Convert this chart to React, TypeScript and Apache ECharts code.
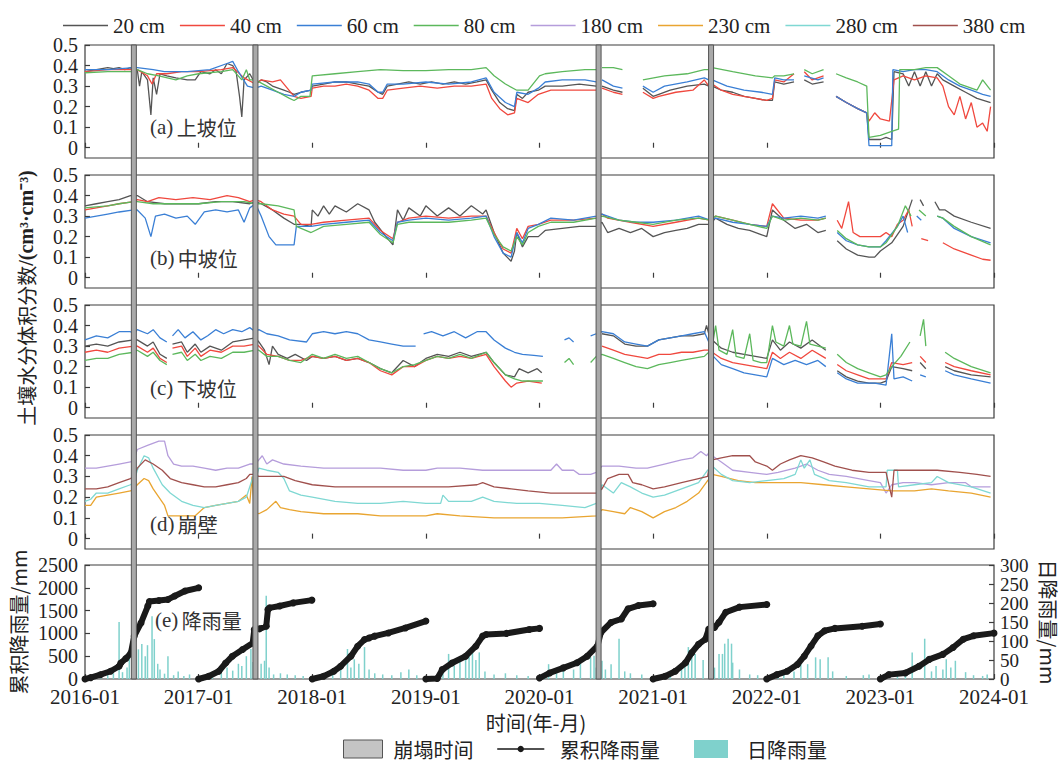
import React, { useEffect, useRef } from 'react';
import * as echarts from 'echarts';

type Pt = [number, number | null];

// x values: years since 2016-01
const X_TICK_LABELS = ['2016-01', '2017-01', '2018-01', '2019-01', '2020-01', '2021-01', '2022-01', '2023-01', '2024-01'];
const Y_TICKS = [0, 0.1, 0.2, 0.3, 0.4, 0.5];
const DAILY_TICKS = [0, 50, 100, 150, 200, 250, 300];
const DEPTH_NAMES = ['20 cm', '40 cm', '60 cm', '80 cm', '180 cm', '230 cm', '280 cm', '380 cm'];
const DEPTH_COLORS = ['#555555', '#f0483e', '#3a7fd5', '#5cb85c', '#b59ddb', '#e9a531', '#7fd8d3', '#a0504d'];
const PANEL_LABELS = [['(a)', '上坡位'], ['(b)', '中坡位'], ['(c)', '下坡位'], ['(d)', '崩壁'], ['(e)', '降雨量']];
const COLLAPSE_TIMES = [0.43, 1.5, 4.52, 5.51];

// ---- (a) upper slope ----
const A_20: Pt[] = [[0,0.37],[0.05,0.375],[0.1,0.38],[0.15,0.385],[0.2,0.39],[0.25,0.385],[0.3,0.39],[0.35,0.38],[0.4,0.39],[0.43,0.37],[0.46,0.38],[0.48,0.30],[0.5,0.37],[0.55,0.33],[0.58,0.16],[0.6,0.34],[0.63,0.26],[0.66,0.36],[0.72,0.35],[0.8,0.34],[0.9,0.33],[0.97,0.33],[1.02,0.37],[1.1,0.36],[1.15,0.38],[1.2,0.36],[1.25,0.41],[1.3,0.40],[1.33,0.37],[1.36,0.25],[1.38,0.15],[1.4,0.33],[1.45,0.36],[1.5,0.31],[1.55,0.33],[1.6,0.32],[1.65,0.30],[1.7,0.29],[1.75,0.28],[1.8,0.27],[1.84,0.26],[1.9,0.27],[1.99,0.28],[2.0,0.30],[2.1,0.31],[2.2,0.32],[2.3,0.32],[2.4,0.31],[2.5,0.30],[2.58,0.27],[2.62,0.26],[2.66,0.30],[2.75,0.31],[2.85,0.32],[2.95,0.31],[3.05,0.32],[3.15,0.31],[3.25,0.32],[3.35,0.31],[3.45,0.32],[3.53,0.33],[3.58,0.28],[3.65,0.22],[3.72,0.19],[3.78,0.18],[3.8,0.26],[3.85,0.24],[3.9,0.27],[3.99,0.28],[4.05,0.30],[4.2,0.30],[4.35,0.31],[4.5,0.30],[4.52,null],[4.55,0.30],[4.65,0.28],[4.73,0.27],[4.75,null],[4.91,0.29],[5.0,0.25],[5.05,0.26],[5.15,0.28],[5.3,0.30],[5.45,0.31],[5.49,0.30],[5.505,null],[5.52,0.30],[5.6,0.28],[5.7,0.27],[5.8,0.25],[5.9,0.24],[6.0,0.23],[6.05,0.23],[6.07,0.32],[6.15,0.31],[6.24,0.32],[6.25,null],[6.33,0.33],[6.4,0.31],[6.5,0.32],[6.54,null],[6.61,0.25],[6.7,0.22],[6.8,0.19],[6.88,0.17],[6.9,0.04],[7.0,0.04],[7.05,0.05],[7.1,0.04],[7.12,0.37],[7.2,0.36],[7.25,0.30],[7.3,0.37],[7.35,0.30],[7.4,0.37],[7.45,0.30],[7.5,0.36],[7.55,0.33],[7.65,0.30],[7.75,0.27],[7.85,0.24],[7.97,0.22]];
const A_40: Pt[] = [[0,0.37],[0.1,0.375],[0.2,0.38],[0.3,0.38],[0.43,0.38],[0.46,0.38],[0.55,0.35],[0.59,0.31],[0.63,0.36],[0.72,0.36],[0.85,0.37],[1.0,0.37],[1.2,0.38],[1.3,0.39],[1.4,0.34],[1.5,0.31],[1.55,0.33],[1.65,0.32],[1.72,0.33],[1.78,0.29],[1.84,0.25],[1.9,0.24],[1.99,0.25],[2.0,0.29],[2.1,0.30],[2.2,0.30],[2.3,0.31],[2.4,0.30],[2.5,0.28],[2.58,0.24],[2.62,0.24],[2.66,0.28],[2.8,0.29],[2.95,0.30],[3.1,0.29],[3.25,0.30],[3.4,0.30],[3.53,0.31],[3.58,0.24],[3.65,0.19],[3.72,0.16],[3.78,0.17],[3.8,0.24],[3.9,0.22],[3.99,0.26],[4.1,0.28],[4.3,0.28],[4.5,0.28],[4.52,null],[4.55,0.29],[4.65,0.27],[4.73,0.26],[4.75,null],[4.91,0.27],[5.0,0.24],[5.05,0.25],[5.2,0.27],[5.35,0.28],[5.45,0.33],[5.49,0.30],[5.505,null],[5.52,0.31],[5.6,0.28],[5.7,0.26],[5.8,0.25],[5.9,0.24],[6.0,0.23],[6.05,0.24],[6.07,0.33],[6.15,0.32],[6.24,0.36],[6.25,null],[6.33,0.37],[6.4,0.33],[6.5,0.35],[6.54,null],[6.61,0.25],[6.7,0.22],[6.8,0.19],[6.88,0.17],[6.9,0.13],[6.95,0.17],[7.0,0.14],[7.08,0.13],[7.12,0.33],[7.2,0.35],[7.3,0.33],[7.4,0.35],[7.5,0.34],[7.55,0.30],[7.6,0.20],[7.65,0.16],[7.7,0.25],[7.75,0.14],[7.8,0.22],[7.85,0.10],[7.9,0.12],[7.94,0.08],[7.97,0.20]];
const A_60: Pt[] = [[0,0.38],[0.2,0.38],[0.43,0.39],[0.46,0.39],[0.6,0.38],[0.7,0.37],[0.9,0.37],[1.1,0.38],[1.25,0.41],[1.3,0.42],[1.35,0.37],[1.43,0.30],[1.5,0.29],[1.55,0.30],[1.65,0.28],[1.75,0.26],[1.84,0.25],[1.9,0.27],[1.99,0.28],[2.0,0.31],[2.2,0.32],[2.4,0.32],[2.5,0.31],[2.58,0.27],[2.62,0.27],[2.66,0.31],[2.8,0.31],[3.0,0.32],[3.2,0.31],[3.4,0.32],[3.53,0.34],[3.6,0.27],[3.7,0.22],[3.78,0.20],[3.8,0.27],[3.9,0.26],[3.99,0.29],[4.05,0.32],[4.2,0.33],[4.4,0.33],[4.5,0.32],[4.52,null],[4.55,0.33],[4.65,0.30],[4.73,0.29],[4.75,null],[4.91,0.30],[5.0,0.27],[5.1,0.30],[5.3,0.32],[5.45,0.34],[5.49,0.33],[5.505,null],[5.52,0.33],[5.65,0.30],[5.8,0.28],[5.95,0.27],[6.05,0.26],[6.07,0.34],[6.15,0.33],[6.24,0.33],[6.25,null],[6.33,0.35],[6.45,0.33],[6.5,0.34],[6.54,null],[6.61,0.25],[6.7,0.22],[6.8,0.19],[6.88,0.17],[6.9,0.01],[7.0,0.01],[7.1,0.01],[7.11,0.38],[7.2,0.37],[7.3,0.38],[7.4,0.38],[7.5,0.37],[7.6,0.33],[7.7,0.30],[7.8,0.28],[7.9,0.26],[7.97,0.25]];
const A_80: Pt[] = [[0,0.365],[0.2,0.37],[0.43,0.37],[0.46,0.38],[0.55,0.36],[0.65,0.35],[0.8,0.33],[0.9,0.35],[1.0,0.36],[1.2,0.37],[1.3,0.38],[1.38,0.33],[1.42,0.38],[1.45,0.33],[1.5,0.33],[1.6,0.30],[1.7,0.27],[1.8,0.24],[1.84,0.23],[1.9,0.25],[1.98,0.25],[2.0,0.35],[2.2,0.36],[2.4,0.37],[2.6,0.38],[2.8,0.375],[3.0,0.375],[3.2,0.38],[3.4,0.38],[3.53,0.39],[3.6,0.35],[3.7,0.31],[3.8,0.28],[3.9,0.28],[4.0,0.35],[4.05,0.36],[4.2,0.37],[4.4,0.38],[4.5,0.38],[4.52,null],[4.55,0.39],[4.65,0.39],[4.73,0.38],[4.75,null],[4.91,0.33],[5.1,0.35],[5.3,0.36],[5.45,0.38],[5.49,0.38],[5.505,null],[5.52,0.39],[5.7,0.37],[5.9,0.35],[6.05,0.34],[6.07,0.35],[6.15,0.35],[6.24,0.36],[6.25,null],[6.33,0.38],[6.4,0.36],[6.5,0.38],[6.54,null],[6.61,0.36],[6.7,0.34],[6.8,0.32],[6.88,0.30],[6.9,0.05],[7.0,0.06],[7.1,0.08],[7.16,0.09],[7.17,0.38],[7.3,0.38],[7.4,0.39],[7.5,0.39],[7.6,0.35],[7.7,0.31],[7.8,0.29],[7.85,0.28],[7.9,0.33],[7.97,0.28]];

// ---- (b) middle slope ----
const B_20: Pt[] = [[0,0.35],[0.1,0.36],[0.2,0.37],[0.3,0.38],[0.4,0.40],[0.46,0.40],[0.55,0.37],[0.7,0.36],[0.85,0.36],[1.0,0.36],[1.15,0.37],[1.3,0.37],[1.45,0.36],[1.5,0.37],[1.55,0.36],[1.65,0.33],[1.75,0.29],[1.84,0.26],[1.9,0.26],[1.99,0.25],[2.0,0.33],[2.05,0.30],[2.1,0.35],[2.15,0.31],[2.2,0.35],[2.3,0.32],[2.4,0.36],[2.5,0.33],[2.55,0.27],[2.65,0.20],[2.71,0.16],[2.75,0.33],[2.8,0.28],[2.85,0.34],[2.95,0.30],[3.0,0.35],[3.1,0.30],[3.2,0.34],[3.3,0.30],[3.4,0.35],[3.5,0.31],[3.53,0.33],[3.6,0.22],[3.68,0.12],[3.75,0.08],[3.78,0.13],[3.8,0.22],[3.85,0.15],[3.9,0.20],[3.99,0.20],[4.05,0.23],[4.2,0.24],[4.35,0.25],[4.5,0.25],[4.55,0.27],[4.6,0.22],[4.7,0.24],[4.8,0.22],[4.9,0.24],[5.0,0.20],[5.1,0.22],[5.2,0.23],[5.3,0.24],[5.4,0.26],[5.5,0.26],[5.55,0.29],[5.65,0.26],[5.75,0.24],[5.85,0.23],[5.95,0.21],[6.0,0.20],[6.05,0.33],[6.15,0.28],[6.25,0.24],[6.35,0.26],[6.45,0.22],[6.52,0.23],[6.55,null],[6.62,0.18],[6.7,0.14],[6.8,0.11],[6.9,0.10],[6.95,0.10],[7.0,0.13],[7.1,0.17],[7.2,0.25],[7.28,0.38],[7.3,null],[7.35,0.38],[7.38,0.35],[7.42,null],[7.48,0.37],[7.52,0.33],[7.57,0.33],[7.65,0.30],[7.8,0.27],[7.97,0.24]];
const B_40: Pt[] = [[0,0.33],[0.1,0.34],[0.2,0.35],[0.3,0.36],[0.43,0.37],[0.46,0.38],[0.55,0.37],[0.65,0.39],[0.8,0.38],[0.95,0.39],[1.1,0.38],[1.25,0.40],[1.35,0.39],[1.45,0.37],[1.5,0.38],[1.55,0.37],[1.65,0.33],[1.75,0.31],[1.84,0.30],[1.9,0.26],[1.99,0.26],[2.1,0.27],[2.3,0.28],[2.5,0.29],[2.6,0.23],[2.71,0.19],[2.75,0.27],[2.85,0.29],[3.0,0.30],[3.2,0.29],[3.4,0.30],[3.53,0.30],[3.6,0.22],[3.68,0.14],[3.75,0.12],[3.8,0.24],[3.85,0.19],[3.9,0.25],[3.99,0.26],[4.1,0.28],[4.3,0.28],[4.5,0.29],[4.55,0.31],[4.6,0.29],[4.8,0.27],[5.0,0.25],[5.2,0.27],[5.4,0.29],[5.5,0.28],[5.55,0.30],[5.7,0.28],[5.85,0.26],[6.0,0.25],[6.05,0.36],[6.15,0.29],[6.3,0.28],[6.45,0.28],[6.52,0.29],[6.55,null],[6.62,0.28],[6.66,0.24],[6.72,0.37],[6.76,0.22],[6.82,0.20],[6.9,0.20],[7.0,0.20],[7.05,0.22],[7.1,0.20],[7.15,0.26],[7.2,0.28],[7.25,0.33],[7.28,0.25],[7.3,null],[7.36,0.19],[7.42,0.18],[7.45,null],[7.55,0.17],[7.65,0.14],[7.8,0.11],[7.9,0.09],[7.97,0.085]];
const B_60: Pt[] = [[0,0.29],[0.1,0.30],[0.2,0.31],[0.3,0.32],[0.43,0.33],[0.46,0.33],[0.53,0.29],[0.58,0.20],[0.62,0.30],[0.7,0.31],[0.8,0.29],[0.9,0.30],[0.97,0.26],[1.05,0.32],[1.15,0.33],[1.25,0.32],[1.35,0.33],[1.4,0.27],[1.45,0.34],[1.5,0.36],[1.55,0.30],[1.62,0.20],[1.68,0.16],[1.84,0.16],[1.86,0.25],[1.99,0.25],[2.1,0.26],[2.3,0.27],[2.5,0.28],[2.6,0.22],[2.71,0.18],[2.75,0.27],[2.85,0.28],[3.0,0.29],[3.2,0.28],[3.4,0.29],[3.53,0.30],[3.6,0.20],[3.68,0.12],[3.75,0.10],[3.8,0.22],[3.85,0.17],[3.9,0.24],[3.99,0.26],[4.1,0.29],[4.3,0.28],[4.5,0.30],[4.55,0.31],[4.7,0.28],[4.85,0.27],[5.0,0.27],[5.2,0.28],[5.4,0.30],[5.5,0.28],[5.55,0.29],[5.7,0.27],[5.85,0.26],[6.0,0.25],[6.05,0.30],[6.15,0.29],[6.3,0.30],[6.45,0.29],[6.52,0.30],[6.55,null],[6.62,0.22],[6.7,0.18],[6.8,0.16],[6.9,0.15],[7.0,0.15],[7.05,0.18],[7.15,0.25],[7.2,0.30],[7.24,0.22],[7.27,null],[7.32,0.30],[7.36,0.28],[7.4,null],[7.5,0.30],[7.55,0.29],[7.65,0.24],[7.8,0.20],[7.97,0.17]];
const B_80: Pt[] = [[0,0.34],[0.1,0.345],[0.2,0.35],[0.3,0.36],[0.43,0.37],[0.46,0.37],[0.6,0.36],[0.8,0.36],[1.0,0.36],[1.2,0.37],[1.4,0.37],[1.5,0.36],[1.55,0.36],[1.7,0.35],[1.84,0.33],[1.86,0.25],[1.99,0.22],[2.1,0.25],[2.3,0.26],[2.5,0.27],[2.6,0.21],[2.71,0.17],[2.75,0.26],[2.85,0.27],[3.0,0.27],[3.2,0.27],[3.4,0.28],[3.53,0.29],[3.6,0.21],[3.68,0.15],[3.75,0.13],[3.8,0.20],[3.85,0.16],[3.9,0.22],[3.99,0.25],[4.1,0.27],[4.3,0.27],[4.5,0.29],[4.55,0.30],[4.7,0.28],[4.85,0.27],[5.0,0.26],[5.2,0.28],[5.4,0.29],[5.5,0.28],[5.55,0.30],[5.7,0.28],[5.85,0.26],[6.0,0.24],[6.05,0.30],[6.15,0.28],[6.3,0.29],[6.45,0.28],[6.52,0.29],[6.55,null],[6.62,0.23],[6.7,0.19],[6.8,0.16],[6.9,0.15],[7.0,0.15],[7.05,0.17],[7.15,0.25],[7.22,0.35],[7.27,0.30],[7.3,null],[7.34,0.33],[7.4,0.30],[7.44,null],[7.5,0.30],[7.55,0.29],[7.65,0.25],[7.8,0.20],[7.97,0.16]];

// ---- (c) lower slope ----
const C_20: Pt[] = [[0,0.30],[0.1,0.31],[0.2,0.30],[0.3,0.32],[0.43,0.33],[0.46,0.33],[0.55,0.30],[0.6,0.32],[0.66,0.26],[0.72,0.24],[0.74,null],[0.77,0.31],[0.85,0.32],[0.9,0.27],[0.97,0.31],[1.02,0.27],[1.1,0.30],[1.2,0.28],[1.3,0.32],[1.4,0.33],[1.5,0.34],[1.53,0.32],[1.58,0.28],[1.62,0.21],[1.65,0.30],[1.7,0.26],[1.78,0.24],[1.85,0.26],[1.95,0.23],[2.0,0.25],[2.1,0.24],[2.2,0.25],[2.3,0.23],[2.4,0.24],[2.5,0.22],[2.6,0.19],[2.7,0.17],[2.8,0.23],[2.9,0.20],[3.0,0.24],[3.1,0.26],[3.2,0.25],[3.3,0.27],[3.4,0.25],[3.53,0.27],[3.6,0.22],[3.7,0.16],[3.78,0.15],[3.82,0.19],[3.9,0.17],[3.98,0.19],[4.02,0.17],[4.05,null],[4.55,0.36],[4.65,0.35],[4.75,0.31],[4.85,0.30],[4.95,0.30],[5.05,0.33],[5.15,0.34],[5.25,0.35],[5.35,0.35],[5.45,0.36],[5.47,0.40],[5.49,0.36],[5.505,null],[5.52,0.33],[5.6,0.29],[5.7,0.27],[5.8,0.26],[5.9,0.25],[6.0,0.24],[6.05,0.33],[6.12,0.28],[6.2,0.32],[6.3,0.29],[6.4,0.33],[6.52,0.28],[6.55,null],[6.62,0.18],[6.7,0.15],[6.8,0.13],[6.9,0.12],[7.0,0.12],[7.05,0.13],[7.1,0.20],[7.2,0.19],[7.28,0.18],[7.3,null],[7.35,0.22],[7.4,0.19],[7.45,null],[7.57,0.20],[7.65,0.18],[7.8,0.16],[7.97,0.15]];
const C_40: Pt[] = [[0,0.27],[0.1,0.28],[0.2,0.27],[0.3,0.29],[0.43,0.30],[0.46,0.30],[0.55,0.27],[0.6,0.29],[0.66,0.24],[0.72,0.22],[0.74,null],[0.77,0.29],[0.85,0.30],[0.9,0.25],[0.97,0.29],[1.02,0.25],[1.1,0.28],[1.2,0.27],[1.3,0.30],[1.4,0.30],[1.5,0.31],[1.53,0.30],[1.6,0.26],[1.7,0.25],[1.8,0.23],[1.9,0.23],[2.0,0.25],[2.1,0.24],[2.2,0.25],[2.3,0.23],[2.4,0.24],[2.5,0.22],[2.6,0.18],[2.7,0.16],[2.8,0.20],[2.9,0.20],[3.0,0.23],[3.1,0.25],[3.2,0.24],[3.3,0.25],[3.4,0.24],[3.53,0.26],[3.6,0.20],[3.7,0.13],[3.75,0.10],[3.8,0.12],[3.9,0.13],[4.02,0.12],[4.05,null],[4.55,0.30],[4.65,0.28],[4.75,0.26],[4.85,0.25],[4.95,0.24],[5.05,0.26],[5.15,0.26],[5.25,0.27],[5.35,0.27],[5.45,0.28],[5.49,0.28],[5.505,null],[5.52,0.27],[5.6,0.24],[5.7,0.22],[5.8,0.21],[5.9,0.20],[6.0,0.19],[6.05,0.27],[6.12,0.24],[6.2,0.27],[6.3,0.24],[6.4,0.28],[6.52,0.24],[6.55,null],[6.62,0.21],[6.7,0.18],[6.8,0.16],[6.9,0.14],[7.0,0.14],[7.05,0.14],[7.1,0.22],[7.2,0.21],[7.28,0.22],[7.3,null],[7.35,0.25],[7.4,0.22],[7.45,null],[7.57,0.22],[7.65,0.20],[7.8,0.18],[7.97,0.16]];
const C_60: Pt[] = [[0,0.33],[0.1,0.35],[0.2,0.34],[0.3,0.37],[0.4,0.37],[0.43,0.36],[0.46,0.38],[0.55,0.36],[0.6,0.38],[0.66,0.34],[0.72,0.32],[0.74,null],[0.77,0.35],[0.82,0.38],[0.88,0.34],[0.95,0.37],[1.02,0.33],[1.08,0.35],[1.15,0.38],[1.22,0.36],[1.3,0.38],[1.38,0.37],[1.45,0.39],[1.5,0.37],[1.53,0.38],[1.6,0.36],[1.7,0.35],[1.8,0.33],[1.95,0.32],[2.0,0.36],[2.1,0.37],[2.2,0.36],[2.3,0.37],[2.4,0.36],[2.5,0.33],[2.6,0.32],[2.7,0.31],[2.8,0.30],[2.91,0.30],[2.94,null],[2.98,0.36],[3.05,0.37],[3.15,0.35],[3.25,0.37],[3.35,0.34],[3.45,0.37],[3.53,0.37],[3.6,0.33],[3.7,0.29],[3.78,0.27],[3.85,0.26],[3.95,0.255],[4.03,0.25],[4.1,null],[4.22,0.33],[4.26,0.34],[4.3,0.32],[4.35,null],[4.45,0.35],[4.5,0.36],[4.55,0.37],[4.65,0.36],[4.75,0.32],[4.85,0.31],[4.95,0.30],[5.05,0.33],[5.15,0.34],[5.25,0.35],[5.35,0.36],[5.45,0.37],[5.49,0.32],[5.505,null],[5.52,0.50],[5.53,0.25],[5.6,0.21],[5.7,0.19],[5.8,0.17],[5.9,0.16],[6.0,0.15],[6.05,0.24],[6.15,0.21],[6.25,0.23],[6.35,0.21],[6.45,0.23],[6.52,0.20],[6.55,null],[6.62,0.17],[6.7,0.14],[6.8,0.12],[6.9,0.12],[6.95,0.12],[7.05,0.11],[7.1,0.36],[7.12,0.14],[7.2,0.15],[7.28,0.13],[7.3,null],[7.35,0.16],[7.4,0.15],[7.45,null],[7.57,0.18],[7.65,0.16],[7.8,0.14],[7.97,0.12]];
const C_80: Pt[] = [[0,0.23],[0.1,0.24],[0.2,0.24],[0.3,0.26],[0.43,0.27],[0.46,0.28],[0.55,0.25],[0.6,0.27],[0.66,0.23],[0.72,0.21],[0.74,null],[0.77,0.26],[0.85,0.27],[0.9,0.23],[0.97,0.26],[1.02,0.23],[1.1,0.25],[1.2,0.24],[1.3,0.27],[1.4,0.27],[1.5,0.28],[1.53,0.28],[1.6,0.25],[1.7,0.25],[1.8,0.23],[1.9,0.22],[2.0,0.26],[2.1,0.24],[2.2,0.26],[2.3,0.24],[2.4,0.25],[2.5,0.22],[2.6,0.19],[2.7,0.17],[2.8,0.20],[2.9,0.21],[3.0,0.23],[3.1,0.25],[3.2,0.24],[3.3,0.26],[3.4,0.24],[3.53,0.27],[3.6,0.22],[3.7,0.16],[3.78,0.14],[3.85,0.13],[3.95,0.13],[4.03,0.13],[4.1,null],[4.22,0.22],[4.26,0.24],[4.3,0.21],[4.35,null],[4.45,0.22],[4.5,0.25],[4.55,0.26],[4.65,0.24],[4.75,0.22],[4.85,0.20],[4.95,0.19],[5.05,0.21],[5.15,0.22],[5.25,0.23],[5.35,0.24],[5.45,0.25],[5.49,0.27],[5.505,null],[5.52,0.30],[5.55,0.40],[5.58,0.28],[5.65,0.26],[5.7,0.38],[5.73,0.25],[5.8,0.24],[5.85,0.36],[5.88,0.23],[5.95,0.22],[6.0,0.22],[6.05,0.40],[6.08,0.32],[6.15,0.30],[6.2,0.40],[6.23,0.31],[6.3,0.30],[6.35,0.42],[6.38,0.31],[6.45,0.30],[6.52,0.29],[6.55,null],[6.62,0.26],[6.7,0.22],[6.8,0.19],[6.9,0.17],[7.0,0.15],[7.05,0.16],[7.1,0.20],[7.18,0.25],[7.26,0.32],[7.3,null],[7.35,0.35],[7.38,0.43],[7.4,0.30],[7.45,null],[7.57,0.27],[7.65,0.24],[7.8,0.20],[7.97,0.17]];

// ---- (d) collapse wall ----
const D_180: Pt[] = [[0,0.34],[0.1,0.34],[0.2,0.35],[0.3,0.36],[0.4,0.37],[0.43,0.38],[0.46,0.43],[0.55,0.45],[0.65,0.47],[0.7,0.47],[0.73,0.40],[0.78,0.36],[0.85,0.35],[0.95,0.35],[1.05,0.34],[1.15,0.33],[1.25,0.34],[1.35,0.34],[1.45,0.36],[1.5,0.36],[1.53,0.38],[1.56,0.40],[1.6,0.36],[1.65,0.38],[1.75,0.36],[1.9,0.35],[2.1,0.34],[2.4,0.34],[2.6,0.34],[2.8,0.33],[3.0,0.33],[3.1,0.34],[3.3,0.34],[3.5,0.33],[3.7,0.33],[3.85,0.33],[4.1,0.33],[4.15,0.36],[4.2,0.33],[4.3,0.33],[4.35,0.31],[4.45,0.31],[4.5,0.32],[4.55,0.35],[4.7,0.35],[4.85,0.34],[4.95,0.34],[5.1,0.36],[5.25,0.38],[5.35,0.39],[5.42,0.42],[5.47,0.40],[5.5,0.42],[5.52,0.40],[5.6,0.37],[5.7,0.33],[5.85,0.32],[6.0,0.31],[6.1,0.32],[6.25,0.34],[6.35,0.36],[6.45,0.33],[6.55,0.31],[6.7,0.30],[6.9,0.28],[7.0,0.27],[7.05,0.22],[7.1,0.26],[7.2,0.27],[7.3,0.27],[7.45,0.26],[7.6,0.27],[7.75,0.27],[7.8,0.25],[7.97,0.25]];
const D_230: Pt[] = [[0,0.16],[0.05,0.16],[0.1,0.20],[0.2,0.21],[0.3,0.22],[0.4,0.23],[0.43,0.24],[0.46,0.26],[0.52,0.29],[0.56,0.28],[0.6,0.24],[0.65,0.20],[0.7,0.16],[0.73,0.11],[0.8,0.11],[0.9,0.11],[0.97,0.11],[1.05,0.15],[1.15,0.16],[1.25,0.17],[1.35,0.18],[1.42,0.21],[1.45,0.17],[1.47,0.30],[1.49,0.13],[1.53,0.12],[1.6,0.14],[1.68,0.18],[1.72,0.15],[1.8,0.14],[1.9,0.13],[2.1,0.12],[2.4,0.12],[2.6,0.11],[2.8,0.11],[3.0,0.11],[3.1,0.12],[3.3,0.11],[3.6,0.10],[3.9,0.10],[4.2,0.10],[4.5,0.11],[4.55,0.14],[4.65,0.13],[4.75,0.12],[4.8,0.15],[4.9,0.13],[5.0,0.10],[5.1,0.13],[5.2,0.15],[5.3,0.18],[5.4,0.22],[5.48,0.28],[5.52,0.31],[5.6,0.30],[5.75,0.28],[5.9,0.27],[6.1,0.27],[6.3,0.27],[6.5,0.26],[6.7,0.25],[6.9,0.24],[7.1,0.23],[7.3,0.23],[7.45,0.24],[7.6,0.23],[7.8,0.22],[7.97,0.20]];
const D_280: Pt[] = [[0,0.18],[0.05,0.19],[0.1,0.22],[0.2,0.22],[0.3,0.24],[0.4,0.26],[0.43,0.27],[0.46,0.33],[0.52,0.40],[0.56,0.39],[0.6,0.34],[0.68,0.26],[0.75,0.22],[0.85,0.18],[0.95,0.16],[1.05,0.15],[1.15,0.16],[1.25,0.17],[1.35,0.18],[1.42,0.20],[1.48,0.30],[1.5,0.28],[1.53,0.34],[1.6,0.33],[1.7,0.32],[1.75,0.29],[1.8,0.23],[1.9,0.21],[2.0,0.20],[2.2,0.18],[2.4,0.17],[2.6,0.17],[2.8,0.18],[3.0,0.17],[3.13,0.17],[3.15,0.21],[3.2,0.18],[3.4,0.18],[3.5,0.20],[3.6,0.18],[3.8,0.17],[4.0,0.17],[4.2,0.16],[4.4,0.15],[4.5,0.17],[4.55,0.26],[4.65,0.22],[4.72,0.27],[4.8,0.25],[4.9,0.22],[5.0,0.20],[5.1,0.21],[5.25,0.24],[5.4,0.27],[5.48,0.33],[5.52,0.35],[5.6,0.31],[5.7,0.28],[5.85,0.27],[6.0,0.28],[6.15,0.29],[6.25,0.31],[6.3,0.38],[6.33,0.34],[6.38,0.38],[6.42,0.31],[6.55,0.28],[6.7,0.27],[6.9,0.25],[7.05,0.25],[7.06,0.33],[7.15,0.33],[7.16,0.25],[7.3,0.26],[7.45,0.27],[7.5,0.30],[7.6,0.27],[7.8,0.25],[7.97,0.22]];
const D_380: Pt[] = [[0,0.24],[0.1,0.24],[0.2,0.25],[0.3,0.27],[0.4,0.29],[0.43,0.30],[0.46,0.34],[0.53,0.38],[0.6,0.36],[0.68,0.33],[0.75,0.29],[0.85,0.27],[0.95,0.26],[1.05,0.25],[1.15,0.25],[1.25,0.26],[1.35,0.27],[1.42,0.29],[1.45,0.31],[1.5,0.31],[1.53,0.30],[1.65,0.30],[1.75,0.30],[1.85,0.28],[2.0,0.26],[2.2,0.25],[2.5,0.25],[2.8,0.25],[3.0,0.25],[3.2,0.25],[3.45,0.26],[3.5,0.27],[3.6,0.25],[3.75,0.24],[3.9,0.23],[4.1,0.22],[4.3,0.22],[4.5,0.22],[4.55,0.24],[4.6,0.29],[4.7,0.31],[4.78,0.31],[4.82,0.27],[4.9,0.26],[5.0,0.24],[5.1,0.25],[5.25,0.27],[5.4,0.29],[5.48,0.30],[5.5,0.37],[5.52,0.38],[5.6,0.39],[5.7,0.40],[5.85,0.40],[5.9,0.37],[6.0,0.35],[6.05,0.33],[6.12,0.36],[6.2,0.38],[6.3,0.40],[6.4,0.39],[6.5,0.37],[6.6,0.35],[6.75,0.33],[6.9,0.32],[7.05,0.32],[7.1,0.20],[7.12,0.33],[7.3,0.33],[7.5,0.33],[7.7,0.32],[7.85,0.31],[7.97,0.30]];

// ---- (e) rainfall ----
const CUM_RAIN: Pt[] = [[0,0],[0.05,30],[0.136,95],[0.225,170],[0.3,280],[0.315,350],[0.36,450],[0.404,570],[0.433,940],[0.493,1230],[0.553,1600],[0.567,1700],[0.65,1720],[0.73,1745],[0.79,1820],[0.88,1930],[1.0,2000],[1.0,null],
[1.0,0],[1.089,60],[1.178,170],[1.238,350],[1.297,500],[1.387,645],[1.476,790],[1.49,1085],[1.536,1100],[1.595,1157],[1.61,1525],[1.625,1560],[1.714,1600],[1.833,1670],[1.997,1730],[1.998,null],
[2.0,0],[2.1,60],[2.19,170],[2.25,280],[2.34,500],[2.4,720],[2.46,865],[2.5,900],[2.55,940],[2.67,1010],[2.82,1120],[3.0,1270],[3.0,null],
[3.0,0],[3.1,10],[3.144,205],[3.23,350],[3.35,500],[3.44,720],[3.5,940],[3.53,975],[3.71,1000],[3.91,1085],[4.0,1110],[4.0,null],
[4.0,20],[4.09,133],[4.21,244],[4.33,355],[4.42,500],[4.51,725],[4.54,1020],[4.63,1240],[4.72,1316],[4.78,1540],[4.87,1610],[5.0,1650],[5.0,null],
[5.0,0],[5.106,60],[5.195,170],[5.285,355],[5.34,577],[5.4,762],[5.46,873],[5.49,1095],[5.54,1132],[5.58,1243],[5.64,1465],[5.76,1576],[6.0,1635],[6.0,null],
[6.0,0],[6.09,96],[6.18,170],[6.27,318],[6.33,500],[6.39,725],[6.45,947],[6.51,1058],[6.6,1110],[6.84,1155],[7.0,1205],[7.0,null],
[7.0,0],[7.075,96],[7.22,133],[7.34,280],[7.43,430],[7.55,540],[7.64,690],[7.73,873],[7.82,947],[8.0,1006]];
const DAILY_RAIN: [number, number][] = [[0.05,8],[0.1,12],[0.14,20],[0.2,25],[0.25,15],[0.3,150],[0.33,18],[0.37,30],[0.39,62],[0.42,40],[0.47,78],[0.5,92],[0.53,60],[0.55,89],[0.59,165],[0.61,105],[0.64,40],[0.66,25],[0.7,14],[0.73,60],[0.78,10],[0.82,20],[0.87,8],[0.92,12],
[1.05,8],[1.12,10],[1.2,15],[1.25,30],[1.3,22],[1.35,40],[1.38,34],[1.42,60],[1.46,79],[1.48,45],[1.55,40],[1.58,48],[1.595,219],[1.62,30],[1.66,12],[1.72,15],[1.78,12],[1.85,10],[1.92,8],
[2.1,10],[2.18,15],[2.25,25],[2.31,79],[2.34,30],[2.37,52],[2.41,40],[2.46,84],[2.5,25],[2.55,15],[2.62,12],[2.7,10],[2.78,18],[2.85,25],[2.92,10],
[3.1,10],[3.15,20],[3.2,66],[3.25,35],[3.3,52],[3.35,57],[3.38,70],[3.41,79],[3.44,50],[3.47,70],[3.52,20],[3.6,12],[3.7,15],[3.8,10],[3.9,8],
[4.05,10],[4.08,39],[4.15,15],[4.21,30],[4.3,25],[4.36,52],[4.45,57],[4.48,61],[4.5,30],[4.55,48],[4.58,25],[4.63,39],[4.7,106],[4.75,20],[4.8,15],[4.9,12],
[5.05,8],[5.15,12],[5.25,25],[5.28,40],[5.31,84],[5.34,61],[5.37,66],[5.44,50],[5.49,84],[5.54,30],[5.58,66],[5.61,66],[5.63,93],[5.66,106],[5.69,93],[5.7,43],[5.76,25],[5.85,12],[5.92,10],
[6.1,10],[6.15,15],[6.24,20],[6.3,43],[6.36,39],[6.43,57],[6.47,52],[6.54,57],[6.58,20],[6.7,8],[6.85,10],[6.9,12],
[7.05,8],[7.15,12],[7.22,20],[7.28,70],[7.39,106],[7.45,20],[7.49,34],[7.55,25],[7.58,52],[7.62,30],[7.66,48],[7.75,18],[7.82,10],[7.9,8],[7.94,12]];

const PANEL_SERIES: [string, Pt[]][][] = [
  [['20 cm', A_20], ['40 cm', A_40], ['60 cm', A_60], ['80 cm', A_80]],
  [['20 cm', B_20], ['40 cm', B_40], ['60 cm', B_60], ['80 cm', B_80]],
  [['20 cm', C_20], ['40 cm', C_40], ['60 cm', C_60], ['80 cm', C_80]],
  [['180 cm', D_180], ['230 cm', D_230], ['280 cm', D_280], ['380 cm', D_380]],
];

// layout
const GRID_LEFT = 85;
const GRID_W = 909;
const GRID_TOPS = [45, 175, 305, 435, 565];
const GRID_HS = [113, 113, 113, 114, 114];
const SERIF = "'Liberation Serif', 'Times New Roman', serif";
const CJK = "'Noto Sans CJK SC', sans-serif";
const FRAME = '#3c3c3c';
const TXT = '#222';
const FS = 21;

export default function App() {
  const ref = useRef<HTMLDivElement>(null);
  useEffect(() => {
    if (!ref.current) return;
    const chart = echarts.init(ref.current, undefined, { renderer: 'svg' });

    const grids = GRID_TOPS.map((t, i) => ({
      left: GRID_LEFT, top: t, width: GRID_W, height: GRID_HS[i],
      show: true, borderColor: FRAME, borderWidth: 1.2, backgroundColor: 'transparent',
    }));

    const plain = (v: number) => String(v);
    const yLabel = {
      formatter: plain, showMinLabel: true, showMaxLabel: true, hideOverlap: false,
      fontSize: 20, lineHeight: 15, fontFamily: SERIF, color: TXT,
    };

    const xAxes = GRID_TOPS.map((_, i) => ({
      type: 'value', gridIndex: i, min: 0, max: 8, interval: 1,
      axisLine: { show: false },
      axisTick: { show: true, inside: true, length: 5, lineStyle: { color: FRAME, width: 1.2 } },
      axisLabel: {
        show: i === 4, showMinLabel: true, showMaxLabel: true, hideOverlap: false,
        formatter: (v: number) => X_TICK_LABELS[Math.round(v)],
        fontSize: FS, lineHeight: 18, fontFamily: SERIF, color: TXT, margin: 9,
      },
      splitLine: { show: false },
    }));

    const yAxes: any[] = [0, 1, 2, 3].map((i) => ({
      type: 'value', gridIndex: i, min: -0.05, max: 0.5,
      axisLine: { show: false },
      axisTick: { show: true, inside: true, length: 5, customValues: Y_TICKS, lineStyle: { color: FRAME, width: 1.2 } },
      axisLabel: { ...yLabel, customValues: Y_TICKS, margin: 7 },
      splitLine: { show: false },
    }));
    yAxes.push({
      type: 'value', gridIndex: 4, min: 0, max: 2500, interval: 500, position: 'left',
      axisLine: { show: false },
      axisTick: { show: true, inside: true, length: 5, lineStyle: { color: FRAME, width: 1.2 } },
      axisLabel: { ...yLabel, margin: 7 },
      splitLine: { show: false },
    });
    yAxes.push({
      type: 'value', gridIndex: 4, min: 0, max: 300, interval: 50, position: 'right',
      axisLine: { show: false },
      axisTick: { show: true, inside: true, length: 5, customValues: DAILY_TICKS, lineStyle: { color: FRAME, width: 1.2 } },
      axisLabel: { ...yLabel, customValues: DAILY_TICKS, fontSize: 19, lineHeight: 14, margin: 6 },
      splitLine: { show: false },
    });

    const series: any[] = [];
    PANEL_SERIES.forEach((list, p) => {
      list.forEach(([name, data]) => {
        series.push({
          type: 'line', name, data, xAxisIndex: p, yAxisIndex: p,
          symbol: 'none', showSymbol: false, connectNulls: false,
          color: DEPTH_COLORS[DEPTH_NAMES.indexOf(name)],
          lineStyle: { width: 1.3 }, z: 3,
        });
      });
    });
    series.push({
      type: 'bar', name: '日降雨量', data: DAILY_RAIN, xAxisIndex: 4, yAxisIndex: 5,
      barWidth: 1.5, itemStyle: { color: '#7fd1cc' }, z: 2,
    });
    series.push({
      type: 'line', name: '累积降雨量', data: CUM_RAIN, xAxisIndex: 4, yAxisIndex: 4,
      symbol: 'circle', symbolSize: 7, showSymbol: true, showAllSymbol: true, connectNulls: false,
      color: '#1a1a1a', lineStyle: { width: 6, color: '#1a1a1a', cap: 'round', join: 'round' }, itemStyle: { color: '#1a1a1a' }, z: 4,
    });
    series.push({
      type: 'custom', name: '崩塌时间', xAxisIndex: 4, yAxisIndex: 4, clip: false, z: 10,
      data: COLLAPSE_TIMES.map((t) => [t, 0]),
      itemStyle: { color: '#bdbdbd', borderColor: '#555', borderWidth: 1 },
      renderItem: (_params: any, api: any) => {
        const x = api.coord([api.value(0), 0])[0];
        const top = GRID_TOPS[0];
        const bottom = GRID_TOPS[4] + GRID_HS[4];
        return {
          type: 'rect',
          shape: { x: x - 2.5, y: top, width: 5, height: bottom - top },
          style: { fill: '#a9a9a9', stroke: '#555', lineWidth: 1 },
        };
      },
    });

    const panelLabelY = [127, 258, 388, 524, 620];
    const panelLabelX = [150, 150, 150, 150, 155];
    const graphics: any[] = PANEL_LABELS.map(([a, b], i) => ({
      type: 'text', x: panelLabelX[i], y: panelLabelY[i], z: 20,
      style: {
        text: `{s|${a}} {c|${b}}`,
        verticalAlign: 'middle',
        rich: {
          s: { fontFamily: SERIF, fontSize: FS, fill: '#333' },
          c: { fontFamily: CJK, fontSize: 20, fill: '#333' },
        },
      },
    }));
    graphics.push({
      type: 'text', x: 26, y: 298, rotation: Math.PI / 2, z: 20,
      style: {
        text: '{c|土壤水分体积分数}{b|/(cm³·cm⁻³)}',
        align: 'center', verticalAlign: 'middle',
        rich: {
          c: { fontFamily: CJK, fontSize: 20, fill: TXT },
          b: { fontFamily: SERIF, fontSize: 20, fontWeight: 'bold', fill: TXT },
        },
      },
    });
    // axis titles of panel (e) and time axis
    graphics.push({
      type: 'text', x: 18, y: 622, rotation: Math.PI / 2, z: 20,
      style: { text: '累积降雨量/mm', font: `20px ${CJK}`, fill: TXT, align: 'center', verticalAlign: 'middle' },
    });
    graphics.push({
      type: 'text', x: 1048, y: 622, rotation: -Math.PI / 2, z: 20,
      style: { text: '日降雨量/mm', font: `20px ${CJK}`, fill: TXT, align: 'center', verticalAlign: 'middle' },
    });
    graphics.push({
      type: 'text', x: 536, y: 722, z: 20,
      style: { text: '时间(年-月)', font: `20px ${CJK}`, fill: TXT, align: 'center', verticalAlign: 'middle' },
    });

    const legendText = { fontSize: FS, fontFamily: SERIF, color: TXT };
    const cjkLegendText = { fontSize: 20, fontFamily: CJK, color: TXT };

    chart.setOption({
      animation: false,
      backgroundColor: '#fff',
      grid: grids,
      xAxis: xAxes,
      yAxis: yAxes,
      legend: [
        {
          data: DEPTH_NAMES.map((n) => ({ name: n, icon: 'rect' })),
          left: 58, top: 10, itemWidth: 45, itemHeight: 1.6, itemGap: 15,
          textStyle: legendText, selectedMode: false,
        },
        {
          data: [{ name: '崩塌时间', icon: 'rect', itemStyle: { color: '#c4c4c4', borderColor: '#555', borderWidth: 1 } }],
          left: 338, top: 734, itemWidth: 39, itemHeight: 18, selectedMode: false,
          textStyle: { ...cjkLegendText, padding: [0, 0, 0, 6] },
        },
        {
          data: [{ name: '累积降雨量', lineStyle: { width: 1.5 } }],
          left: 492, top: 734, itemWidth: 46, itemHeight: 8, selectedMode: false,
          textStyle: { ...cjkLegendText, padding: [0, 0, 0, 11] },
        },
        {
          data: [{ name: '日降雨量', icon: 'rect' }],
          left: 689, top: 734, itemWidth: 34, itemHeight: 18, selectedMode: false,
          textStyle: { ...cjkLegendText, padding: [0, 0, 0, 14] },
        },
      ],
      graphic: graphics,
      series,
    });

    return () => chart.dispose();
  }, []);

  return (
    <div
      ref={ref}
      style={{ position: 'fixed', left: 0, top: 0, width: 1061, height: 762, background: '#fff' }}
    />
  );
}
